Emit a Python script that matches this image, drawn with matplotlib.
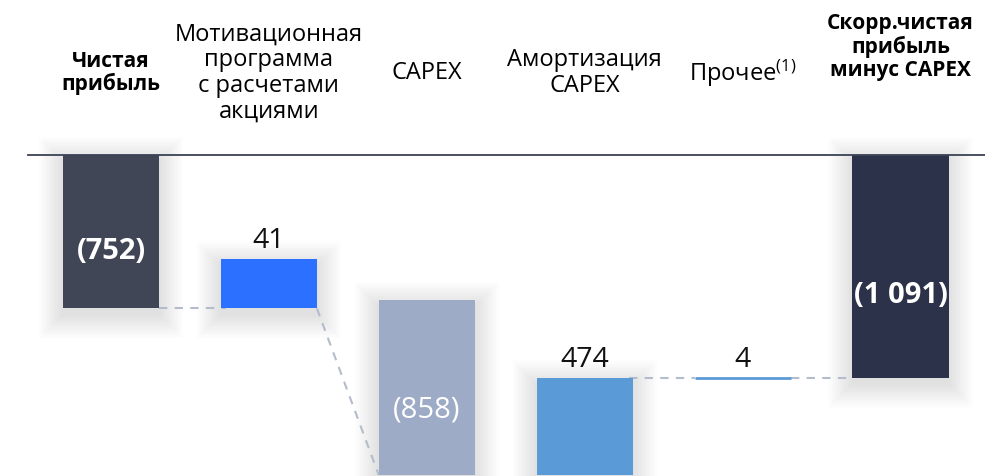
import matplotlib
matplotlib.use("Agg")
import matplotlib.pyplot as plt
from matplotlib.patches import Rectangle

# ---------------- data ----------------
categories = [
    "Чистая\nприбыль",
    "Мотивационная\nпрограмма\nс расчетами\nакциями",
    "CAPEX",
    "Амортизация\nCAPEX",
    "Прочее$^{(1)}$",
    "Скорр.чистая\nприбыль\nминус CAPEX",
]
values = [-752, 41, -858, 474, 4, -1091]
value_labels = ["(752)", "41", "(858)", "474", "4", "(1 091)"]
is_total = [True, False, False, False, False, True]

# ---------------- style ----------------
FONT = "Open Sans"
plt.rcParams["font.family"] = [FONT, "DejaVu Sans"]
plt.rcParams["mathtext.fontset"] = "custom"
plt.rcParams["mathtext.rm"] = FONT
plt.rcParams["mathtext.it"] = FONT

colors = ["#414656", "#2b70ff", "#9eabc6", "#5a9ad6", "#5a9ad6", "#2b3249"]
bold = [True, False, False, False, False, True]
conn_color = "#b4bccc"
W_PX, H_PX = 985, 476
ZERO_PX = 155            # pixel row of zero line
Y_SCALE = 0.204          # px per unit
X_FIRST_PX = 111         # centre of first bar
X_STEP_PX = 157.9        # px between bar centres
BAR_W = 0.608
MIN_H = 240              # minimum displayed height of a small positive step
TINY = 10                # steps smaller than this are drawn as a line

fig = plt.figure(figsize=(W_PX / 100, H_PX / 100), dpi=100)
ax = fig.add_axes([0, 0, 1, 1])
ax.axis("off")
ylo, yhi = -(H_PX - ZERO_PX) / Y_SCALE, ZERO_PX / Y_SCALE
xlo, xhi = -X_FIRST_PX / X_STEP_PX, (W_PX - X_FIRST_PX) / X_STEP_PX
ax.set_xlim(xlo, xhi)
ax.set_ylim(ylo, yhi)
px_x = 1 / X_STEP_PX
px_y = 1 / Y_SCALE

# ---------------- waterfall geometry ----------------
n = len(values)
xs = list(range(n))
tops, bottoms = [], []
levels = []  # running cumulative after each bar
cum = 0
for v, tot in zip(values, is_total):
    if tot:
        lo, hi = min(0, v), max(0, v)
        cum = v
    else:
        start, end = cum, cum + v
        if v > 0 and abs(v) >= TINY:
            lo, hi = start, start + max(v, MIN_H)
        else:
            lo, hi = min(start, end), max(start, end)
        cum = end
    bottoms.append(lo)
    tops.append(hi)
    levels.append(cum)


def shadow(x0, y0, w, h):
    for k in range(1, 16):
        pad = k * 1.6
        ax.add_patch(Rectangle((x0 - pad * px_x, y0 - (pad + 6) * px_y),
                               w + 2 * pad * px_x, h + 2 * pad * px_y,
                               facecolor="black", edgecolor="none",
                               alpha=0.006, zorder=1))


# bars
for i in range(n):
    x0 = xs[i] - BAR_W / 2
    if not is_total[i] and abs(values[i]) < TINY:
        ax.plot([x0, x0 + BAR_W], [levels[i], levels[i]], color=colors[i],
                lw=2, solid_capstyle="butt", zorder=4)
        continue
    shadow(x0, bottoms[i], BAR_W, tops[i] - bottoms[i])
    ax.add_patch(Rectangle((x0, bottoms[i]), BAR_W, tops[i] - bottoms[i],
                           facecolor=colors[i], edgecolor="none", zorder=3))

# zero line
ax.plot([-(X_FIRST_PX - 28) / X_STEP_PX, xhi], [0, 0], color="#3b4256",
        lw=1.3, zorder=5)

# connectors
dash = dict(color=conn_color, lw=1.5, ls=(0, (4, 3.5)), zorder=2.5)
ax.plot([xs[0] + BAR_W / 2, xs[1] - BAR_W / 2 + 5 * px_x],
        [levels[0], levels[0]], **dash)
ax.plot([xs[1] + BAR_W / 2, xs[2] - BAR_W / 2],
        [bottoms[1], bottoms[2]], **dash)
ax.plot([xs[3] + BAR_W / 2 - 4 * px_x, xs[4] - BAR_W / 2],
        [levels[3], levels[3]], **dash)
ax.plot([xs[4] + BAR_W / 2, xs[5] - BAR_W / 2],
        [levels[4], levels[4]], **dash)

# value labels
for i in range(n):
    if values[i] < 0:
        vis_lo = max(bottoms[i], ylo)
        y = tops[i] - 0.63 * (tops[i] - vis_lo)
        ax.text(xs[i], y, value_labels[i], ha="center", va="center",
                color="white", fontsize=21,
                fontweight="bold" if bold[i] else "normal", zorder=6)
    else:
        top = tops[i] if abs(values[i]) >= TINY else levels[i]
        ax.text(xs[i], top + 4 * px_y, value_labels[i], ha="center",
                va="bottom", color="#111111", fontsize=20.5, zorder=6)

# category labels
for i in range(n):
    y = (ZERO_PX - (47 if i == n - 1 else 73)) * px_y
    ax.text(xs[i], y, categories[i], ha="center", va="center",
            fontsize=17 if not bold[i] else 15,
            fontweight="bold" if bold[i] else "normal",
            color="black", linespacing=1.1, zorder=6)

fig.savefig("out.png", dpi=100)
